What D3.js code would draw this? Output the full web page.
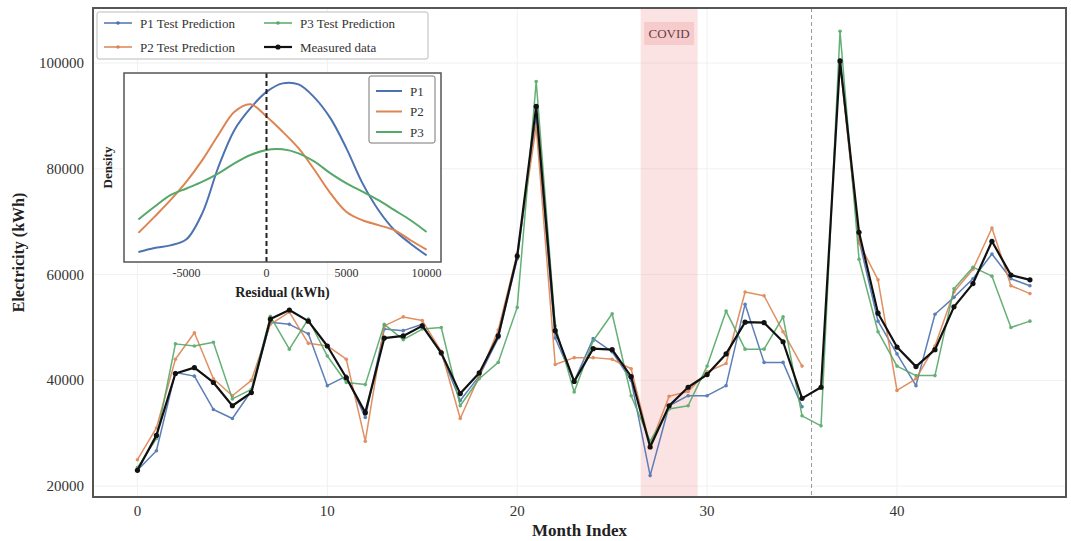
<!DOCTYPE html>
<html>
<head>
<meta charset="utf-8">
<script src="https://cdn.jsdelivr.net/npm/d3@7"></script>
<style>
  html, body { margin: 0; padding: 0; background: #fff; }
  svg text { font-family: "Liberation Serif", "DejaVu Serif", serif; }
</style>
</head>
<body>
<svg id="chart"></svg>
<script>
// month index on x
const months = [0,1,2,3,4,5,6,7,8,9,10,11,12,13,14,15,16,17,18,19,20,21,22,23,
    24,25,26,27,28,29,30,31,32,33,34,35,36,37,38,39,40,41,42,43,44,45,46,47]

const measured = [23000, 29600, 41300, 42400, 39600, 35200, 37700, 51600, 53300, 51200, 46500, 40500,
    33900, 48000, 48400, 50300, 45200, 37500, 41400, 48400, 63500, 91800, 49400, 39800,
    46000, 45800, 40700, 27400, 35200, 38700, 41100, 45000, 51000, 50900, 47300, 36600,
    38700, 100400, 68000, 52700, 46300, 42600, 45800, 53900, 58300, 66300, 59900, 59000]

const p1Pred = [23000, 26700, 41500, 40800, 34500, 32800, 38000, 51000, 50600, 48800, 39000, 40800,
    33000, 49700, 49400, 50600, 45000, 36200, 40800, 48000, 63000, 90000, 48000, 39800,
    47900, 45400, 40000, 22000, 35200, 37100, 37100, 39000, 54400, 43400, 43400, 35000,
    null, 100500, 66500, 51200, 45000, 39000, 52500, 55700, 59200, 63900, 59200, 57900]

const p2Pred = [25000, 31000, 44000, 49000, 40300, 37100, 40000, 50600, 52900, 47000, 46500, 44000,
    28500, 50300, 52000, 51300, 45500, 32800, 40800, 49500, 64000, 88000, 43000, 44300,
    44300, 44000, 42200, 27700, 37000, 37900, 41600, 43200, 56700, 56000, 49200, 42700,
    null, 100000, 66000, 59000, 38100, 40300, 46500, 56700, 61000, 68800, 57900, 56400]

const p3Pred = [23500, 29000, 46900, 46500, 47200, 36500, 38300, 52100, 45900, 51600, 44600, 39600,
    39200, 50600, 47700, 49700, 50000, 35200, 40300, 43400, 53800, 96500, 50300, 37800,
    47500, 52600, 37100, 28500, 34600, 35200, 42700, 53100, 45900, 45900, 52000, 33300,
    31400, 106000, 62900, 49200, 42700, 40900, 40900, 57300, 61400, 59700, 50000, 51200]

const yTicks = [20000, 40000, 60000, 80000, 100000]
const xTicks = [0, 10, 20, 30, 40]
const covidSpan = [26.5, 29.5]
const splitMonth = 35.5

// residual density curves (inset), arbitrary density units
const residuals = [-8000,-7000,-6000,-5000,-4000,-3000,-2000,-1000,0,1000,2000,3000,4000,5000,6000,7000,8000,9000,10000]
const densP1 = [0.53, 0.74, 0.88, 1.2, 2.6, 5.04, 6.99, 8.14, 9.0, 9.45, 9.4, 8.7, 7.6, 6.0, 4.16, 2.74, 1.68, 0.97, 0.35]
const densP2 = [1.54, 2.39, 3.27, 4.25, 5.40, 6.73, 7.95, 8.35, 7.70, 6.90, 6.02, 4.87, 3.63, 2.65, 2.21, 1.95, 1.68, 1.15, 0.65]
const densP3 = [2.25, 2.92, 3.54, 3.89, 4.25, 4.69, 5.22, 5.66, 5.93, 5.96, 5.75, 5.31, 4.69, 4.16, 3.72, 3.27, 2.74, 2.21, 1.59]
const residTicks = [-5000, 0, 5000, 10000]

const width = 1071,
    height = 541

const svg = d3.select("#chart")
    .attr("width", width)
    .attr("height", height)

const blue = "#4c72b0", orange = "#dd8452", green = "#55a868"

const plot = { left: 93, right: 1066, top: 8, bottom: 497 }

const x = d3.scaleLinear().domain([-2.34, 48.9]).range([plot.left, plot.right])
const y = d3.scaleLinear().domain([17950, 110400]).range([plot.bottom, plot.top])

svg.append("rect").attr("width", width).attr("height", height).attr("fill", "#fff")

// faint grid
svg.append("g").selectAll("line").data(xTicks).join("line")
    .attr("x1", d => x(d)).attr("x2", d => x(d))
    .attr("y1", plot.top).attr("y2", plot.bottom)
    .attr("stroke", "#f0f0f0").attr("stroke-width", 1)
svg.append("g").selectAll("line").data(yTicks).join("line")
    .attr("x1", plot.left).attr("x2", plot.right)
    .attr("y1", d => y(d)).attr("y2", d => y(d))
    .attr("stroke", "#f0f0f0").attr("stroke-width", 1)

// covid band
svg.append("rect")
    .attr("x", x(covidSpan[0])).attr("width", x(covidSpan[1]) - x(covidSpan[0]))
    .attr("y", plot.top).attr("height", plot.bottom - plot.top)
    .attr("fill", "#f4a3a3").attr("opacity", 0.3)

// train/test split
svg.append("line")
    .attr("x1", x(splitMonth)).attr("x2", x(splitMonth))
    .attr("y1", plot.top).attr("y2", plot.bottom)
    .attr("stroke", "#999").attr("stroke-width", 1).attr("stroke-dasharray", "4,3")

// series
const series = [
    { name: "P1 Test Prediction", values: p1Pred, color: blue, w: 1.5, r: 1.8 },
    { name: "P2 Test Prediction", values: p2Pred, color: orange, w: 1.5, r: 1.8 },
    { name: "P3 Test Prediction", values: p3Pred, color: green, w: 1.5, r: 1.8 },
    { name: "Measured data", values: measured, color: "#111", w: 2.2, r: 2.6 }
]

const line = d3.line()
    .defined(d => d[1] != null)
    .x(d => x(d[0]))
    .y(d => y(d[1]))

series.forEach(s => {
    const pts = months.map((m, i) => [m, s.values[i]])
    const g = svg.append("g").attr("opacity", s.color === "#111" ? 1 : 0.9)
    g.append("path")
        .attr("d", line(pts))
        .attr("fill", "none")
        .attr("stroke", s.color)
        .attr("stroke-width", s.w)
        .attr("stroke-linejoin", "round")
    g.selectAll("circle")
        .data(pts.filter(d => d[1] != null))
        .join("circle")
        .attr("cx", d => x(d[0]))
        .attr("cy", d => y(d[1]))
        .attr("r", s.r)
        .attr("fill", s.color)
})

// COVID label
const covidMid = x((covidSpan[0] + covidSpan[1]) / 2)
svg.append("rect")
    .attr("x", covidMid - 25).attr("y", 22).attr("width", 50).attr("height", 23)
    .attr("fill", "#f0b8b8").attr("opacity", 0.55)
svg.append("text")
    .attr("x", covidMid).attr("y", 38)
    .attr("text-anchor", "middle")
    .attr("font-size", 13)
    .attr("fill", "#6b3c48")
    .text("COVID")

// frame
svg.append("rect")
    .attr("x", plot.left).attr("y", plot.top)
    .attr("width", plot.right - plot.left).attr("height", plot.bottom - plot.top)
    .attr("fill", "none").attr("stroke", "#555").attr("stroke-width", 2)

// tick labels
svg.append("g").selectAll("text").data(yTicks).join("text")
    .attr("x", 84).attr("y", d => y(d) + 5)
    .attr("text-anchor", "end")
    .attr("font-size", 15).attr("fill", "#333")
    .text(d => d)
svg.append("g").selectAll("text").data(xTicks).join("text")
    .attr("x", d => x(d)).attr("y", 516)
    .attr("text-anchor", "middle")
    .attr("font-size", 15).attr("fill", "#333")
    .text(d => d)

// axis titles
svg.append("text")
    .attr("transform", "translate(24," + ((plot.top + plot.bottom) / 2) + ") rotate(-90)")
    .attr("text-anchor", "middle")
    .attr("font-size", 16).attr("font-weight", "bold").attr("fill", "#222")
    .text("Electricity (kWh)")
svg.append("text")
    .attr("x", (plot.left + plot.right) / 2).attr("y", 536)
    .attr("text-anchor", "middle")
    .attr("font-size", 17).attr("font-weight", "bold").attr("fill", "#222")
    .text("Month Index")

// main legend
const leg = svg.append("g")
leg.append("rect")
    .attr("x", 97).attr("y", 12).attr("width", 331).attr("height", 47).attr("rx", 2)
    .attr("fill", "#fff").attr("stroke", "#bbb").attr("stroke-width", 1)
const legPos = [[104, 23], [104, 47], [264, 23], [264, 47]]
series.forEach((s, i) => {
    const [lx, ly] = legPos[i]
    leg.append("line")
        .attr("x1", lx).attr("x2", lx + 28).attr("y1", ly).attr("y2", ly)
        .attr("stroke", s.color).attr("stroke-width", s.w)
    leg.append("circle").attr("cx", lx + 14).attr("cy", ly).attr("r", s.r).attr("fill", s.color)
    leg.append("text")
        .attr("x", lx + 36).attr("y", ly + 4.5)
        .attr("font-size", 13).attr("fill", "#333")
        .text(s.name)
})

// inset: residual densities
const inset = { left: 124, right: 441, top: 73, bottom: 262 }
const ix = d3.scaleLinear().domain([-8900, 10900]).range([inset.left, inset.right])
const iy = d3.scaleLinear().domain([0, 10]).range([inset.bottom, inset.top])

const ig = svg.append("g")
ig.append("rect")
    .attr("x", inset.left).attr("y", inset.top)
    .attr("width", inset.right - inset.left).attr("height", inset.bottom - inset.top)
    .attr("fill", "#fff")

const dens = [
    { name: "P1", values: densP1, color: blue },
    { name: "P2", values: densP2, color: orange },
    { name: "P3", values: densP3, color: green }
]
const dline = d3.line()
    .x(d => ix(d[0]))
    .y(d => iy(d[1]))
    .curve(d3.curveCatmullRom)

dens.forEach(s => {
    ig.append("path")
        .attr("d", dline(residuals.map((r, i) => [r, s.values[i]])))
        .attr("fill", "none")
        .attr("stroke", s.color)
        .attr("stroke-width", 2)
})

ig.append("line")
    .attr("x1", ix(0)).attr("x2", ix(0))
    .attr("y1", inset.top).attr("y2", inset.bottom)
    .attr("stroke", "#222").attr("stroke-width", 2).attr("stroke-dasharray", "5,3")

ig.append("rect")
    .attr("x", inset.left).attr("y", inset.top)
    .attr("width", inset.right - inset.left).attr("height", inset.bottom - inset.top)
    .attr("fill", "none").attr("stroke", "#555").attr("stroke-width", 1.5)

ig.append("g").selectAll("text").data(residTicks).join("text")
    .attr("x", d => ix(d)).attr("y", 277)
    .attr("text-anchor", "middle")
    .attr("font-size", 12).attr("fill", "#333")
    .text(d => d)
ig.append("text")
    .attr("x", (inset.left + inset.right) / 2).attr("y", 297)
    .attr("text-anchor", "middle")
    .attr("font-size", 14).attr("font-weight", "bold").attr("fill", "#222")
    .text("Residual (kWh)")
ig.append("text")
    .attr("transform", "translate(112," + ((inset.top + inset.bottom) / 2) + ") rotate(-90)")
    .attr("text-anchor", "middle")
    .attr("font-size", 13).attr("font-weight", "bold").attr("fill", "#222")
    .text("Density")

// inset legend
ig.append("rect")
    .attr("x", 369).attr("y", 76).attr("width", 66).attr("height", 67).attr("rx", 2)
    .attr("fill", "#fff").attr("stroke", "#777").attr("stroke-width", 1)
dens.forEach((s, i) => {
    const ly = 91 + i * 20.5
    ig.append("line")
        .attr("x1", 376).attr("x2", 402).attr("y1", ly).attr("y2", ly)
        .attr("stroke", s.color).attr("stroke-width", 2)
    ig.append("text")
        .attr("x", 410).attr("y", ly + 4.5)
        .attr("font-size", 13).attr("fill", "#333")
        .text(s.name)
})
</script>
</body>
</html>
